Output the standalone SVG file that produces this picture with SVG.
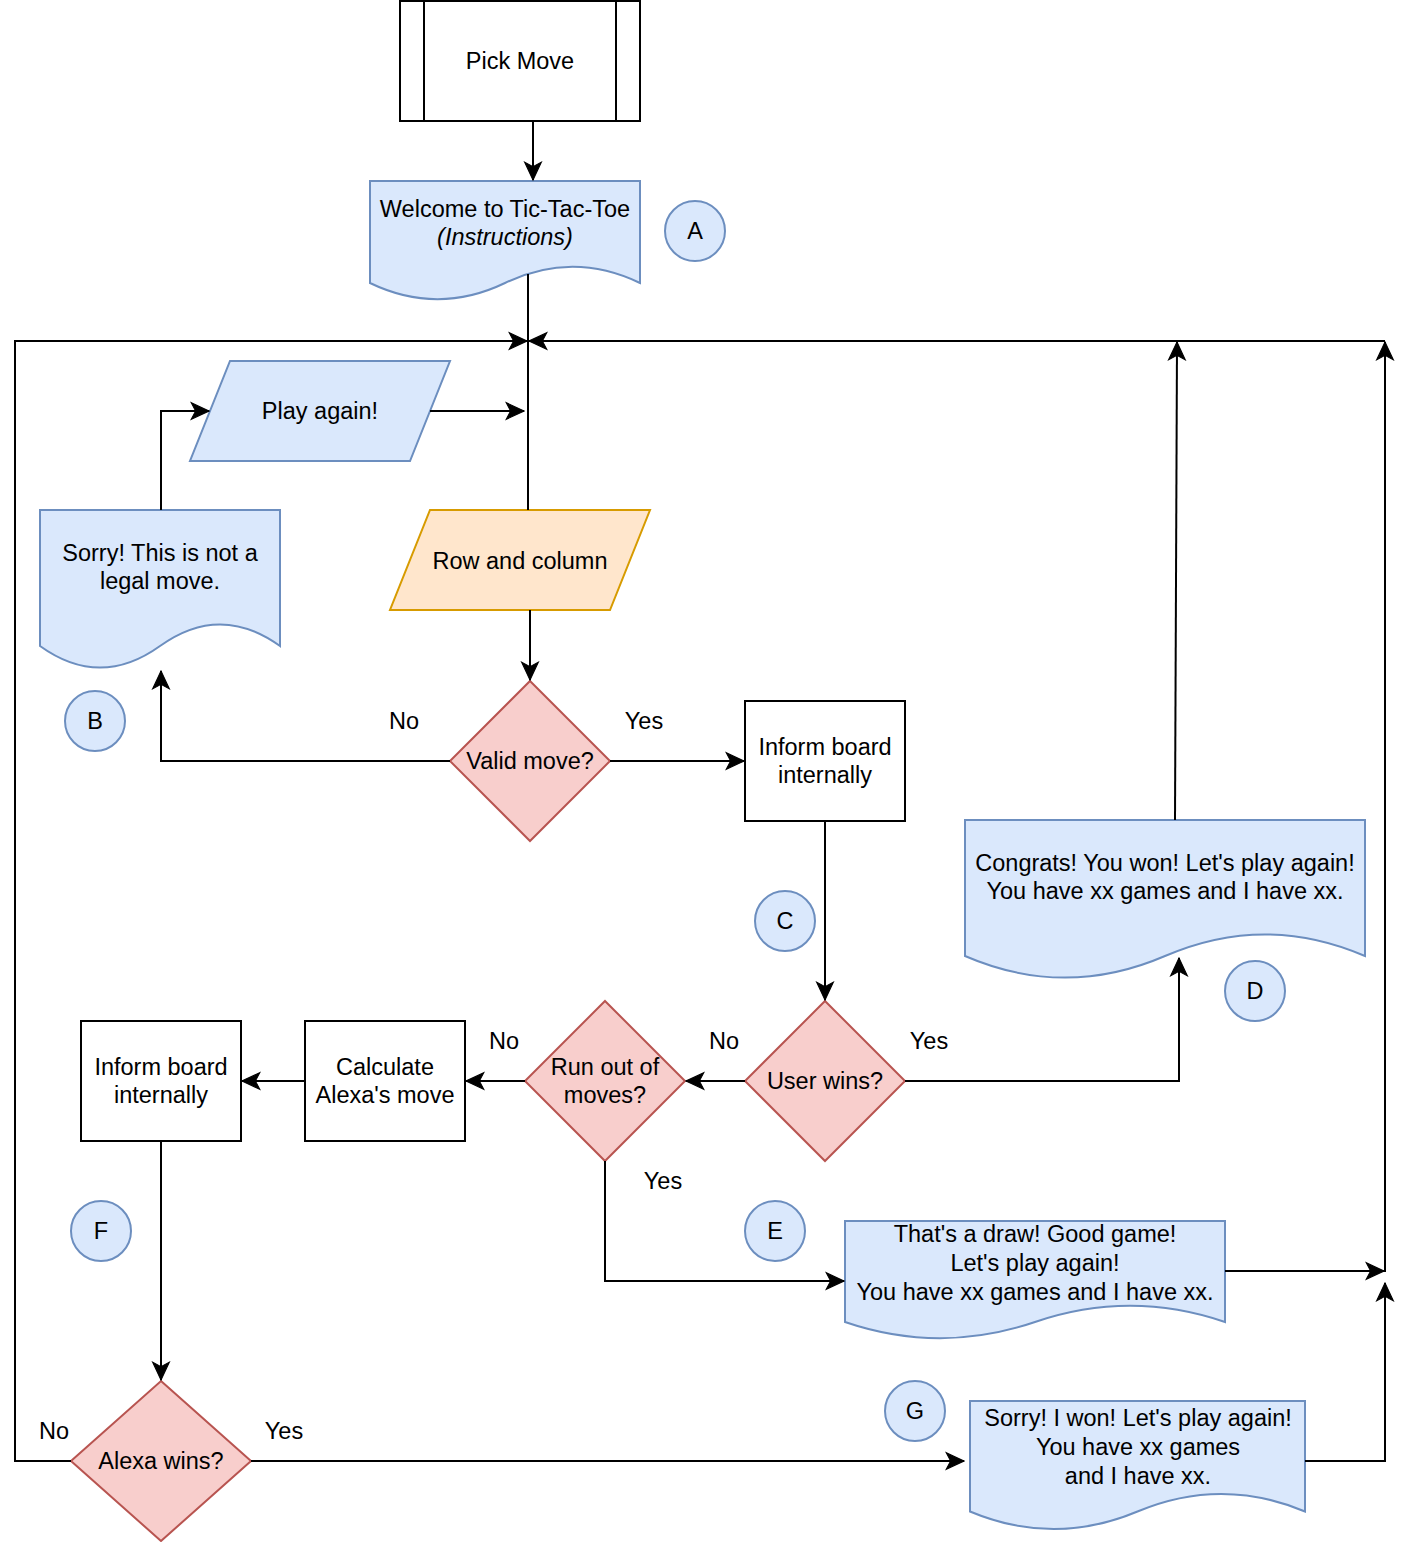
<svg xmlns="http://www.w3.org/2000/svg" width="1402" height="1542" viewBox="0 0 1402 1542">
<style>
text{font-family:"Liberation Sans",Arial,Helvetica,sans-serif;font-size:23.5px;fill:#000;text-anchor:middle}
.blue{fill:#dae8fc;stroke:#6c8ebf;stroke-width:2}
.orange{fill:#ffe6cc;stroke:#d79b00;stroke-width:2}
.red{fill:#f8cecc;stroke:#b85450;stroke-width:2}
.plain{fill:#fff;stroke:#000;stroke-width:2}
.edge{fill:none;stroke:#000;stroke-width:2}
.arrow{marker-end:url(#arr)}
</style>
<defs>
<marker id="arr" markerUnits="userSpaceOnUse" markerWidth="20" markerHeight="20" viewBox="-17 -9 18 18" refX="0" refY="0" orient="auto">
<path d="M0,0 L-16,-7.5 L-12,0 L-16,7.5 Z" fill="#000" stroke="#000" stroke-width="1"/>
</marker>
</defs>
<rect width="1402" height="1542" fill="#fff"/>

<g id="pick-move">
<rect class="plain" x="400" y="1" width="240" height="120"/>
<line class="plain" x1="424" y1="1" x2="424" y2="121"/>
<line class="plain" x1="616" y1="1" x2="616" y2="121"/>
<text x="520" y="69">Pick Move</text>
</g>

<g id="welcome">
<path class="blue" d="M370,181 H640 V283 Q572.5,250.6 505,283 Q437.5,315.4 370,283 Z"/>
<text x="505" y="217">Welcome to Tic-Tac-Toe</text>
<text x="505" y="245" font-style="italic">(Instructions)</text>
</g>

<g id="circle-a"><circle class="blue" cx="695" cy="231" r="30"/><text x="695" y="239">A</text></g>

<g id="play-again">
<path class="blue" d="M230,361 H450 L410,461 H190 Z"/>
<text x="320" y="419">Play again!</text>
</g>

<g id="sorry-illegal">
<path class="blue" d="M40,510 H280 V646 Q220,602.8 160,646 Q100,689.2 40,646 Z"/>
<text x="160" y="561">Sorry! This is not a</text>
<text x="160" y="589">legal move.</text>
</g>

<g id="row-column">
<path class="orange" d="M430,510 H650 L610,610 H390 Z"/>
<text x="520" y="569">Row and column</text>
</g>

<g id="valid-move">
<path class="red" d="M530,681 L610,761 L530,841 L450,761 Z"/>
<text x="530" y="769">Valid move?</text>
</g>

<g id="circle-b"><circle class="blue" cx="95" cy="721" r="30"/><text x="95" y="729">B</text></g>

<g id="inform-board-1">
<rect class="plain" x="745" y="701" width="160" height="120"/>
<text x="825" y="755">Inform board</text>
<text x="825" y="783">internally</text>
</g>

<g id="circle-c"><circle class="blue" cx="785" cy="921" r="30"/><text x="785" y="929">C</text></g>

<g id="congrats">
<path class="blue" d="M965,820 H1365 V956 Q1265,912.8 1165,956 Q1065,999.2 965,956 Z"/>
<text x="1165" y="871">Congrats! You won! Let's play again!</text>
<text x="1165" y="899">You have xx games and I have xx.</text>
</g>

<g id="circle-d"><circle class="blue" cx="1255" cy="991" r="30"/><text x="1255" y="999">D</text></g>

<g id="user-wins">
<path class="red" d="M825,1001 L905,1081 L825,1161 L745,1081 Z"/>
<text x="825" y="1089">User wins?</text>
</g>

<g id="run-out">
<path class="red" d="M605,1001 L685,1081 L605,1161 L525,1081 Z"/>
<text x="605" y="1075">Run out of</text>
<text x="605" y="1103">moves?</text>
</g>

<g id="calculate">
<rect class="plain" x="305" y="1021" width="160" height="120"/>
<text x="385" y="1075">Calculate</text>
<text x="385" y="1103">Alexa's move</text>
</g>

<g id="inform-board-2">
<rect class="plain" x="81" y="1021" width="160" height="120"/>
<text x="161" y="1075">Inform board</text>
<text x="161" y="1103">internally</text>
</g>

<g id="circle-f"><circle class="blue" cx="101" cy="1231" r="30"/><text x="101" y="1239">F</text></g>
<g id="circle-e"><circle class="blue" cx="775" cy="1231" r="30"/><text x="775" y="1239">E</text></g>
<g id="circle-g"><circle class="blue" cx="915" cy="1411" r="30"/><text x="915" y="1419">G</text></g>

<g id="draw">
<path class="blue" d="M845,1221 H1225 V1322 Q1130,1289.6 1035,1322 Q940,1354.4 845,1322 Z"/>
<text x="1035" y="1242">That's a draw! Good game!</text>
<text x="1035" y="1271">Let's play again!</text>
<text x="1035" y="1300">You have xx games and I have xx.</text>
</g>

<g id="alexa-wins">
<path class="red" d="M161,1381 L251,1461 L161,1541 L71,1461 Z"/>
<text x="161" y="1469">Alexa wins?</text>
</g>

<g id="sorry-won">
<path class="blue" d="M970,1401 H1305 V1511.5 Q1221.25,1476.4 1137.5,1511.5 Q1053.75,1546.6 970,1511.5 Z"/>
<text x="1138" y="1426">Sorry! I won! Let's play again!</text>
<text x="1138" y="1455">You have xx games</text>
<text x="1138" y="1484">and I have xx.</text>
</g>

<g id="connectors">
<path class="edge arrow" d="M533,121 V180"/>
<path class="edge" d="M528,274 V510"/>
<path class="edge arrow" d="M71,1461 H15 V341 H527"/>
<path class="edge arrow" d="M1385,341 H529"/>
<path class="edge arrow" d="M1175,820 L1177,342"/>
<path class="edge arrow" d="M1385,1272 V342"/>
<path class="edge arrow" d="M1225,1271 H1384"/>
<path class="edge arrow" d="M1305,1461 H1385 V1283"/>
<path class="edge arrow" d="M251,1461 H964"/>
<path class="edge arrow" d="M161,1141 V1380"/>
<path class="edge arrow" d="M305,1081 H242"/>
<path class="edge arrow" d="M525,1081 H466"/>
<path class="edge arrow" d="M605,1161 V1281 H844"/>
<path class="edge arrow" d="M745,1081 H686"/>
<path class="edge arrow" d="M905,1081 H1179 V958"/>
<path class="edge arrow" d="M825,821 V1000"/>
<path class="edge arrow" d="M610,761 H744"/>
<path class="edge arrow" d="M450,761 H161 V671"/>
<path class="edge arrow" d="M161,510 V411 H209"/>
<path class="edge arrow" d="M430,411 H524"/>
<path class="edge arrow" d="M530,610 V680"/>
</g>

<g id="labels">
<text x="404" y="729">No</text>
<text x="644" y="729">Yes</text>
<text x="724" y="1049">No</text>
<text x="929" y="1049">Yes</text>
<text x="504" y="1049">No</text>
<text x="663" y="1189">Yes</text>
<text x="54" y="1439">No</text>
<text x="284" y="1439">Yes</text>
</g>
</svg>
